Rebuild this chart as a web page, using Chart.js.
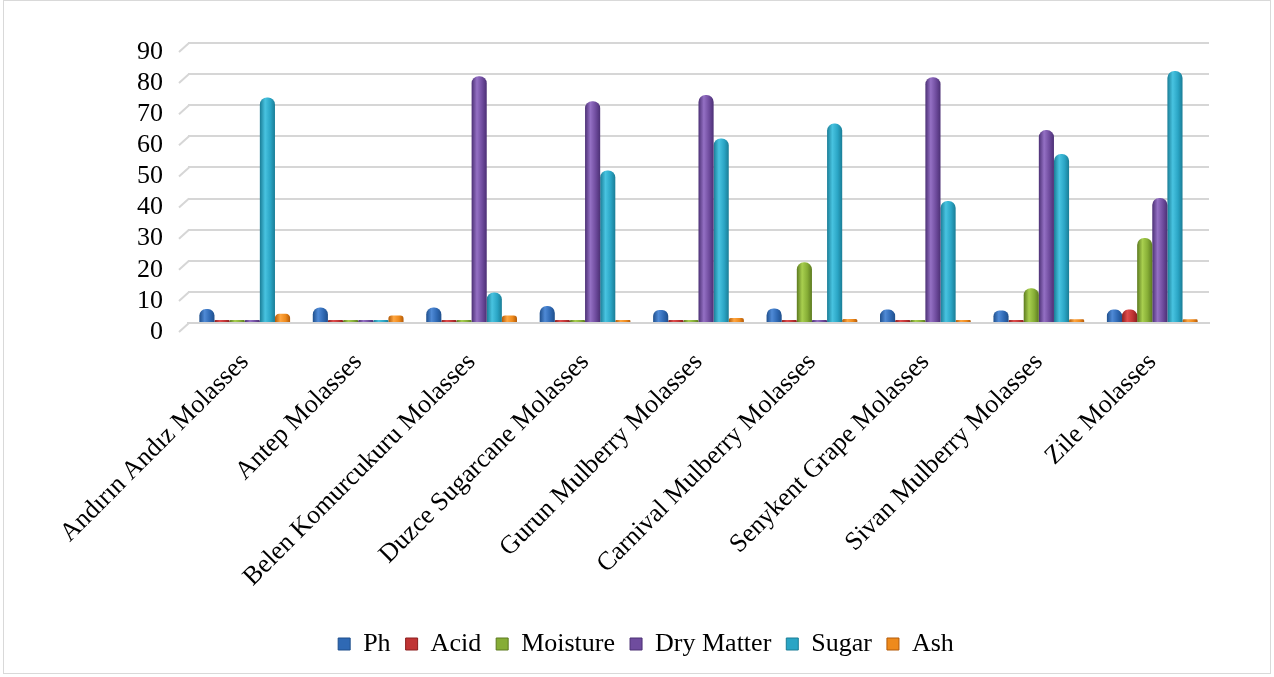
<!DOCTYPE html>
<html>
<head>
<meta charset="utf-8">
<script src="https://cdn.jsdelivr.net/npm/chart.js@4.4.1/dist/chart.umd.min.js"></script>
<style>
    html, body { margin: 0; padding: 0; background: #fff; }
    #wrap {
        position: absolute; left: 3px; top: 0px;
        width: 1266px; height: 672px;
        border: 1px solid #d9d9d9;
    }
    #chartBox { position: absolute; left: 0px; top: 0px; width: 1274px; height: 677px; }
</style>
</head>
<body>
<div id="wrap"></div>
<div id="chartBox"><canvas id="molassesChart" width="1274" height="677"></canvas></div>
<script>
// categories
const molasses = [
    'Andırın Andız Molasses', 'Antep Molasses', 'Belen Komurcukuru Molasses',
    'Duzce Sugarcane Molasses', 'Gurun Mulberry Molasses', 'Carnival Mulberry Molasses',
    'Senykent Grape Molasses', 'Sivan Mulberry Molasses', 'Zile Molasses'
];

// series values
const ph        = [4.5, 5.0, 5.0, 5.5, 4.2, 4.7, 4.3, 4.0, 4.3];
const acid      = [0.3, 0.9, 0.5, 1.0, 0.5, 0.3, 0.4, 0.3, 4.3];
const moisture  = [0.2, 0.2, 0.2, 0.2, 0.2, 19.5, 0.2, 11.2, 27.3];
const dryMatter = [0.2, 0.2, 79.3, 71.3, 73.3, 0.2, 79.0, 62.0, 40.2];
const sugar     = [72.5, 0.2, 9.8, 49.0, 59.3, 64.1, 39.2, 54.3, 81.0];
const ash       = [3.0, 2.4, 2.4, 0.3, 1.6, 1.3, 1.0, 1.2, 1.2];

// y axis ticks
const yTicks = [0, 10, 20, 30, 40, 50, 60, 70, 80, 90];

const seriesNames = ['Ph', 'Acid', 'Moisture', 'Dry Matter', 'Sugar', 'Ash'];
const seriesData = [ph, acid, moisture, dryMatter, sugar, ash];
// [dark edge, light, mid]
const seriesColors = [
    ['#1f4f8c', '#4f8ad6', '#2f69b4'],
    ['#8c1f1f', '#e04c4c', '#c03434'],
    ['#5c7a1f', '#a8cf4f', '#86ad36'],
    ['#4c3075', '#9470c4', '#6f4c9e'],
    ['#1a7d96', '#48c3e0', '#2aa5c5'],
    ['#b35a08', '#ffa640', '#ee8a1c']
];

const CAT_PCT = 0.8;
const BAR_PCT = 1.0;

// cylinder-ish shading across each bar
function barFill(context) {
    const chart = context.chart;
    const idx = context.datasetIndex;
    const cols = seriesColors[idx];
    const xs = chart.scales && chart.scales.x;
    if (!chart.chartArea || !xs || context.dataIndex === undefined || xs.right === undefined) {
        return cols[2];
    }
    const catW = (xs.right - xs.left) / molasses.length;
    const slot = catW * CAT_PCT / seriesNames.length;
    const center = xs.getPixelForValue(context.dataIndex);
    const left = center - catW * CAT_PCT / 2 + slot * idx + slot * (1 - BAR_PCT) / 2;
    const w = slot * BAR_PCT;
    if (!isFinite(left) || !isFinite(w)) return cols[2];
    const g = chart.ctx.createLinearGradient(left, 0, left + w, 0);
    g.addColorStop(0, cols[0]);
    g.addColorStop(0.35, cols[1]);
    g.addColorStop(0.7, cols[2]);
    g.addColorStop(1, cols[0]);
    return g;
}

function buildDatasets() {
    return seriesNames.map((name, i) => ({
        label: name,
        data: seriesData[i],
        backgroundColor: barFill,
        borderWidth: 0,
        borderRadius: 7,
        minBarLength: 3,
        categoryPercentage: CAT_PCT,
        barPercentage: BAR_PCT
    }));
}

// little slanted gridline stubs on the left, like the 3D chart has
const gridStubs = {
    id: 'gridStubs',
    afterDraw(chart) {
        const y = chart.scales.y;
        const left = chart.chartArea.left;
        const c = chart.ctx;
        c.save();
        c.strokeStyle = '#d6d6d6';
        c.lineWidth = 2;
        yTicks.forEach(v => {
            const py = y.getPixelForValue(v);
            c.beginPath();
            c.moveTo(left + 1, py);
            c.lineTo(left - 9, py + 9);
            c.stroke();
        });
        c.restore();
    }
};

const serif = "'Liberation Serif', 'Times New Roman', serif";

const ctx = document.getElementById('molassesChart').getContext('2d');
const molassesChart = new Chart(ctx, {
    type: 'bar',
    data: {
        labels: molasses,
        datasets: buildDatasets()
    },
    plugins: [gridStubs],
    options: {
        responsive: false,
        animation: false,
        layout: {
            padding: { top: 43, right: 65, bottom: 10, left: 83 }
        },
        plugins: {
            tooltip: { enabled: false },
            legend: {
                position: 'bottom',
                labels: {
                    font: { family: serif, size: 26 },
                    color: '#000',
                    boxWidth: 12,
                    boxHeight: 12,
                    padding: 15,
                    generateLabels: function(chart) {
                        return seriesNames.map((name, i) => ({
                            text: name,
                            fillStyle: seriesColors[i][2],
                            strokeStyle: seriesColors[i][0],
                            lineWidth: 1,
                            datasetIndex: i,
                            hidden: false
                        }));
                    }
                }
            }
        },
        scales: {
            x: {
                grid: { display: false },
                border: { display: true, color: '#d4d4d4', width: 2 },
                ticks: {
                    font: { family: serif, size: 26 },
                    color: '#000',
                    minRotation: 45,
                    maxRotation: 45,
                    padding: 16
                },
                afterFit: function(scale) { scale.height = 293; }
            },
            y: {
                min: 0,
                max: 90,
                afterBuildTicks: function(scale) {
                    scale.ticks = yTicks.map(v => ({ value: v }));
                },
                grid: { color: '#d6d6d6', lineWidth: 2, drawTicks: false },
                border: { display: false },
                ticks: {
                    font: { family: serif, size: 26 },
                    color: '#000',
                    padding: 25,
                    labelOffset: 9,
                    autoSkip: false
                },
                afterFit: function(scale) { scale.width = 105; }
            }
        }
    }
});
// second pass so the shading uses the final layout
molassesChart.update();
</script>
</body>
</html>
